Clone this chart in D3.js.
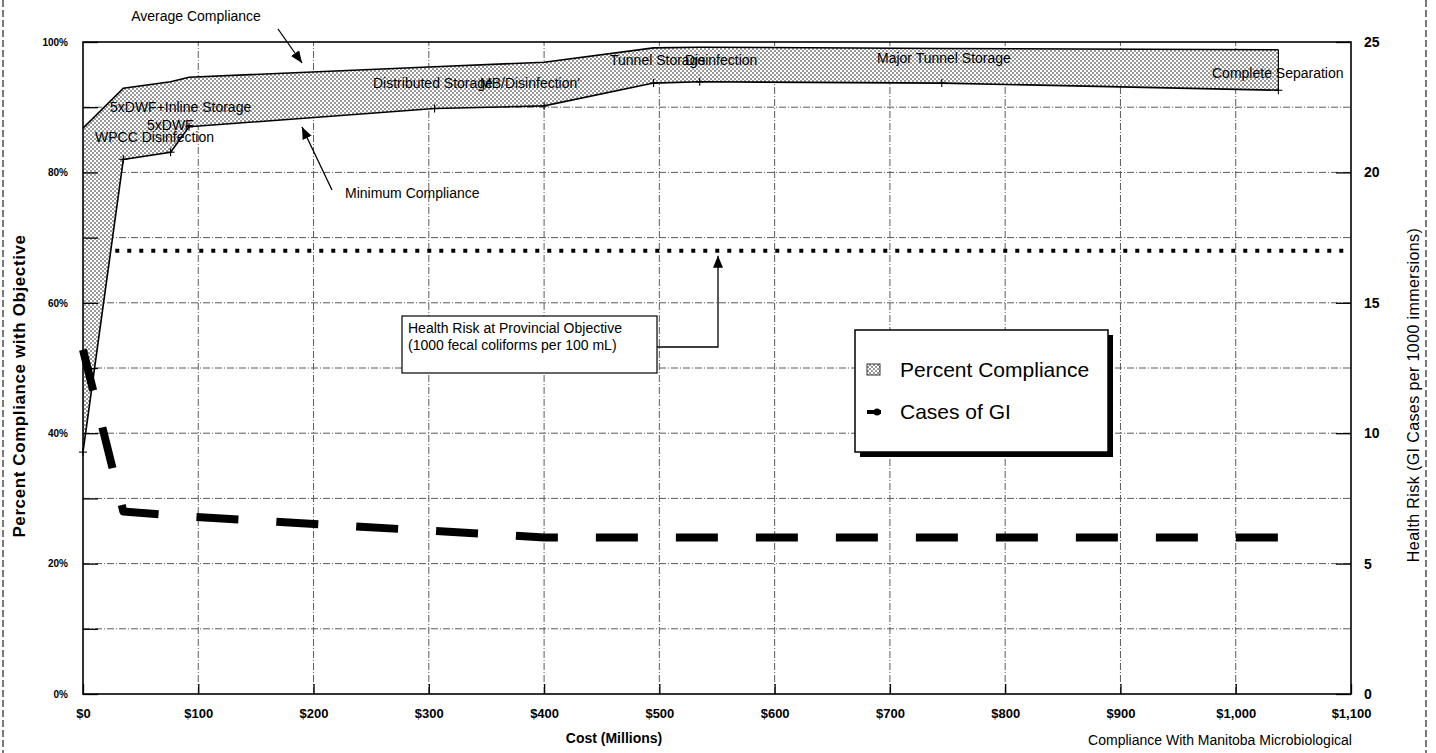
<!DOCTYPE html>
<html>
<head>
<meta charset="utf-8">
<script src="https://cdn.jsdelivr.net/npm/d3@7"></script>
<style>
  html, body { margin: 0; padding: 0; background: #fff; }
  svg { display: block; font-family: "Liberation Sans", Arial, sans-serif; }
</style>
</head>
<body>
<svg id="chart" width="1436" height="753"></svg>
<script>
// Control options, ordered by capital cost ($ millions)
const costs          = [0, 35, 76, 92, 305, 400, 495, 535, 745, 1037];
// Percent of time the objective is met
const avgCompliance  = [86.8, 92.9, 93.9, 94.6, 96.2, 96.9, 99.1, 99.2, 99.0, 98.8];
const minCompliance  = [37.1, 82.0, 83.1, 87.0, 89.8, 90.2, 93.7, 93.9, 93.7, 92.6];
// Health risk: GI cases per 1000 immersions
const giCases        = [13.2, 7.0, 6.85, 6.8, 6.25, 6.0, 6.0, 6.0, 6.0, 6.0];
// Risk at the provincial objective (1000 fecal coliforms / 100 mL)
const objectiveRisk  = 17;
const objectiveStart = 28;

const xTickValues  = [0, 100, 200, 300, 400, 500, 600, 700, 800, 900, 1000, 1100];
const xTickLabels  = ["$0", "$100", "$200", "$300", "$400", "$500", "$600", "$700", "$800", "$900", "$1,000", "$1,100"];
const pctTickValues = [0, 10, 20, 30, 40, 50, 60, 70, 80, 90, 100];
const pctTickLabels = ["0%", "", "20%", "", "40%", "", "60%", "", "80%", "", "100%"];
const giTickValues = [0, 5, 10, 15, 20, 25];
const giTickLabels = ["0", "5", "10", "15", "20", "25"];

const W = 1436, H = 753;
const svg = d3.select("#chart");

const x    = d3.scaleLinear().domain([0, 1100]).range([83, 1351]);
const yPct = d3.scaleLinear().domain([0, 100]).range([694, 42]);
const yGI  = d3.scaleLinear().domain([0, 25]).range([694, 42]);

// ---- defs: stipple fill and arrowhead
const defs = svg.append("defs");
const pat = defs.append("pattern").attr("id", "stipple")
  .attr("width", 4).attr("height", 4).attr("patternUnits", "userSpaceOnUse");
pat.append("rect").attr("width", 4).attr("height", 4).attr("fill", "#fff");
pat.append("rect").attr("x", 0).attr("y", 0).attr("width", 2).attr("height", 2).attr("fill", "#9a9a9a");
pat.append("rect").attr("x", 2).attr("y", 2).attr("width", 2).attr("height", 2).attr("fill", "#9a9a9a");

defs.append("marker").attr("id", "arrow")
  .attr("viewBox", "0 0 12 10").attr("refX", 12).attr("refY", 5)
  .attr("markerWidth", 12).attr("markerHeight", 10)
  .attr("markerUnits", "userSpaceOnUse").attr("orient", "auto")
  .append("path").attr("d", "M0,0 L12,5 L0,10 Z").attr("fill", "#000");

// ---- page frame edges
[3, 1426].forEach(px => {
  svg.append("line").attr("x1", px).attr("x2", px).attr("y1", 0).attr("y2", H)
    .attr("stroke", "#222").attr("stroke-width", 1.2).attr("stroke-dasharray", "7,3");
});

// ---- gridlines
const grid = svg.append("g").attr("stroke", "#333").attr("stroke-width", 1)
  .attr("stroke-dasharray", "7,2,1,2").attr("opacity", 0.8);
grid.selectAll("line.h").data(d3.range(10, 100, 10)).join("line")
  .attr("x1", x(0)).attr("x2", x(1100))
  .attr("y1", d => yPct(d)).attr("y2", d => yPct(d));
grid.selectAll("line.v").data(d3.range(100, 1100, 100)).join("line")
  .attr("x1", d => x(d)).attr("x2", d => x(d))
  .attr("y1", yPct(0)).attr("y2", yPct(100));

// ---- compliance band
const idx = d3.range(costs.length);
const band = d3.area()
  .x(i => x(costs[i]))
  .y0(i => yPct(minCompliance[i]))
  .y1(i => yPct(avgCompliance[i]));
svg.append("path").datum(idx).attr("d", band).attr("fill", "url(#stipple)");

const avgLine = d3.line().x(i => x(costs[i])).y(i => yPct(avgCompliance[i]));
const minLine = d3.line().x(i => x(costs[i])).y(i => yPct(minCompliance[i]));
svg.append("path").datum(idx).attr("d", avgLine).attr("fill", "none").attr("stroke", "#000").attr("stroke-width", 1.6);
svg.append("path").datum(idx).attr("d", minLine).attr("fill", "none").attr("stroke", "#000").attr("stroke-width", 1.6);
const last = costs.length - 1;
svg.append("line")
  .attr("x1", x(costs[last])).attr("x2", x(costs[last]))
  .attr("y1", yPct(avgCompliance[last])).attr("y2", yPct(minCompliance[last]))
  .attr("stroke", "#000").attr("stroke-width", 1.2);

// "+" markers on the minimum-compliance series
const plus = svg.append("g").attr("stroke", "#000").attr("stroke-width", 1.1);
idx.forEach(i => {
  const cx = x(costs[i]), cy = yPct(minCompliance[i]);
  plus.append("line").attr("x1", cx - 4).attr("x2", cx + 4).attr("y1", cy).attr("y2", cy);
  plus.append("line").attr("x1", cx).attr("x2", cx).attr("y1", cy - 4).attr("y2", cy + 4);
});

// ---- GI cases line (right axis)
const giLine = d3.line().x(i => x(costs[i])).y(i => yGI(giCases[i]));
svg.append("path").datum(idx).attr("d", giLine)
  .attr("fill", "none").attr("stroke", "#000").attr("stroke-width", 8)
  .attr("stroke-dasharray", "42,38").attr("stroke-linejoin", "round");

// ---- objective risk level (dotted)
svg.append("line")
  .attr("x1", x(objectiveStart)).attr("x2", x(1100))
  .attr("y1", yGI(objectiveRisk)).attr("y2", yGI(objectiveRisk))
  .attr("stroke", "#000").attr("stroke-width", 4).attr("stroke-dasharray", "4,8");

// ---- axes
const axisStyle = g => {
  g.select(".domain").remove();
  g.selectAll(".tick line").attr("stroke", "#000").attr("stroke-width", 1.3);
  g.selectAll(".tick text").attr("fill", "#000");
};

svg.append("g").attr("transform", `translate(0,${yPct(0)})`)
  .call(d3.axisBottom(x).tickValues(xTickValues).tickSize(-10).tickPadding(15)
    .tickFormat((d, i) => xTickLabels[i]))
  .call(axisStyle)
  .call(g => g.selectAll(".tick text").attr("font-size", 13).attr("font-weight", "bold"));

svg.append("g").attr("transform", `translate(${x(0)},0)`)
  .call(d3.axisLeft(yPct).tickValues(pctTickValues).tickSize(-15).tickPadding(15)
    .tickFormat((d, i) => pctTickLabels[i]))
  .call(axisStyle)
  .call(g => g.selectAll(".tick text").attr("font-size", 10).attr("font-weight", "bold"));

svg.append("g").attr("transform", `translate(${x(1100)},0)`)
  .call(d3.axisRight(yGI).tickValues(giTickValues).tickSize(-15).tickPadding(13)
    .tickFormat((d, i) => giTickLabels[i]))
  .call(axisStyle)
  .call(g => g.selectAll(".tick text").attr("font-size", 14).attr("font-weight", "bold"));

// plot frame
svg.append("rect")
  .attr("x", x(0)).attr("y", yPct(100))
  .attr("width", x(1100) - x(0)).attr("height", yPct(0) - yPct(100))
  .attr("fill", "none").attr("stroke", "#000").attr("stroke-width", 1.6);

// ---- axis titles
svg.append("text").attr("transform", `translate(19,386) rotate(-90)`)
  .attr("text-anchor", "middle").attr("dominant-baseline", "central")
  .attr("font-size", 17).attr("font-weight", "bold").attr("letter-spacing", 0.6)
  .text("Percent Compliance with Objective");
svg.append("text").attr("transform", `translate(1413,395) rotate(-90)`)
  .attr("text-anchor", "middle").attr("dominant-baseline", "central")
  .attr("font-size", 16).attr("letter-spacing", 0.4)
  .text("Health Risk (GI Cases per 1000 immersions)");
svg.append("text").attr("x", 614).attr("y", 743).attr("text-anchor", "middle")
  .attr("font-size", 14).attr("font-weight", "bold").text("Cost (Millions)");
svg.append("text").attr("x", 1220).attr("y", 745).attr("text-anchor", "middle")
  .attr("font-size", 14).text("Compliance With Manitoba Microbiological");

// ---- option labels inside the band
const optionLabels = [
  { text: "5xDWF+Inline Storage", x: 110, y: 112 },
  { text: "5xDWF",                x: 147, y: 130 },
  { text: "WPCC Disinfection",    x: 95,  y: 142 },
  { text: "Distributed Storage",  x: 373, y: 88 },
  { text: "MB/Disinfection'",     x: 480, y: 88 },
  { text: "Tunnel Storage",       x: 610, y: 65 },
  { text: "Disinfection",         x: 685, y: 65 },
  { text: "Major Tunnel Storage", x: 877, y: 63 },
  { text: "Complete Separation",  x: 1212, y: 78 }
];
svg.append("g").selectAll("text").data(optionLabels).join("text")
  .attr("x", d => d.x).attr("y", d => d.y).attr("font-size", 14).attr("fill", "#000")
  .text(d => d.text);

// ---- compliance annotations
svg.append("text").attr("x", 196).attr("y", 21).attr("text-anchor", "middle")
  .attr("font-size", 14).text("Average Compliance");
svg.append("line").attr("x1", 278).attr("y1", 29).attr("x2", 302).attr("y2", 63)
  .attr("stroke", "#000").attr("stroke-width", 1.3).attr("marker-end", "url(#arrow)");

svg.append("text").attr("x", 345).attr("y", 198).attr("font-size", 14).text("Minimum Compliance");
svg.append("line").attr("x1", 332).attr("y1", 190).attr("x2", 302).attr("y2", 127)
  .attr("stroke", "#000").attr("stroke-width", 1.3).attr("marker-end", "url(#arrow)");

// ---- objective annotation box with connector
svg.append("rect").attr("x", 402).attr("y", 316).attr("width", 255).attr("height", 57)
  .attr("fill", "#fff").attr("stroke", "#000").attr("stroke-width", 1.2);
svg.append("text").attr("x", 408).attr("y", 333).attr("font-size", 14)
  .text("Health Risk at Provincial Objective");
svg.append("text").attr("x", 408).attr("y", 350).attr("font-size", 14)
  .text("(1000 fecal coliforms per 100 mL)");
svg.append("polyline")
  .attr("points", `657,347 718,347 718,${yGI(objectiveRisk) + 5}`)
  .attr("fill", "none").attr("stroke", "#000").attr("stroke-width", 1.3)
  .attr("marker-end", "url(#arrow)");

// ---- legend
const lg = svg.append("g").attr("transform", "translate(855,330)");
lg.append("rect").attr("x", 5).attr("y", 5).attr("width", 253).attr("height", 122).attr("fill", "#000");
lg.append("rect").attr("width", 253).attr("height", 122).attr("fill", "#fff")
  .attr("stroke", "#000").attr("stroke-width", 1.5);
lg.append("rect").attr("x", 12).attr("y", 34).attr("width", 13).attr("height", 11)
  .attr("fill", "url(#stipple)").attr("stroke", "#333").attr("stroke-width", 1);
lg.append("text").attr("x", 45).attr("y", 47).attr("font-size", 21).text("Percent Compliance");
lg.append("line").attr("x1", 12).attr("x2", 26).attr("y1", 82).attr("y2", 82)
  .attr("stroke", "#000").attr("stroke-width", 4);
lg.append("circle").attr("cx", 22).attr("cy", 82).attr("r", 3.5).attr("fill", "#000");
lg.append("text").attr("x", 45).attr("y", 89).attr("font-size", 21).text("Cases of GI");
</script>
</body>
</html>
